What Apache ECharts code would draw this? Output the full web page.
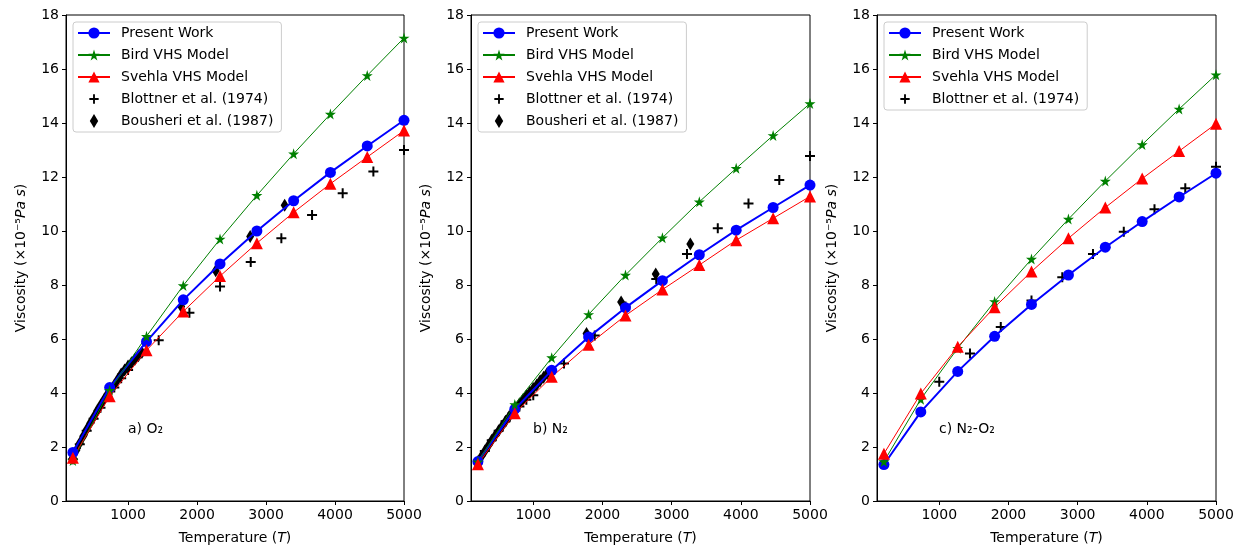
<!DOCTYPE html>
<html>
<head>
<meta charset="utf-8">
<title>Viscosity</title>
<script src="https://cdn.jsdelivr.net/npm/echarts@6/dist/echarts.min.js"></script>
<style>
    html, body {margin: 0; padding: 0; background: #ffffff;}
    #chartBox {width: 1237px; height: 550px;}
</style>
</head>
<body>
<div id="chartBox"></div>
<script>
/**
 * data (viscosity in 1e-5 Pa s)
 */
var _tempModel = [200, 733, 1267, 1800, 2333, 2867, 3400, 3933, 4467, 5000];
var _tempBlottner = [200, 300, 400, 500, 600, 700, 800, 900, 1000, 1444, 1889, 2333, 2778, 3222, 3667, 4111, 4556, 5000];
var _tempBlottnerC = [1000, 1444, 1889, 2333, 2778, 3222, 3667, 4111, 4556, 5000];
var _tempBousheri = [200, 250, 300, 350, 400, 450, 500, 550, 600, 650, 700, 750, 800, 850, 900, 950, 1000, 1050, 1100, 1150, 1200, 1770, 2270, 2770, 3270];

// a) O2
var _presentO2 = [1.8, 4.2, 5.9, 7.45, 8.78, 10.0, 11.12, 12.17, 13.15, 14.1];
var _birdO2 = [1.5, 4.1, 6.1, 7.98, 9.7, 11.32, 12.86, 14.33, 15.76, 17.15];
var _svehlaO2 = [1.6, 3.88, 5.58, 7.02, 8.33, 9.55, 10.69, 11.75, 12.74, 13.72];
var _blottnerO2 = [1.55, 2.1, 2.6, 3.05, 3.45, 3.85, 4.2, 4.55, 4.85, 5.95, 6.97, 7.94, 8.85, 9.73, 10.59, 11.4, 12.2, 13.0];
var _bousheriO2 = [1.6, 1.88, 2.15, 2.4, 2.65, 2.88, 3.1, 3.33, 3.55, 3.75, 3.95, 4.12, 4.3, 4.5, 4.7, 4.85, 5.0, 5.12, 5.25, 5.38, 5.5, 7.2, 8.53, 9.8, 10.95];

// b) N2
var _presentN2 = [1.46, 3.4, 4.84, 6.07, 7.16, 8.16, 9.12, 10.03, 10.87, 11.7];
var _birdN2 = [1.45, 3.57, 5.31, 6.91, 8.37, 9.75, 11.08, 12.32, 13.54, 14.72];
var _svehlaN2 = [1.36, 3.25, 4.6, 5.79, 6.87, 7.83, 8.74, 9.66, 10.47, 11.28];
var _blottnerN2 = [1.4, 1.85, 2.25, 2.6, 2.95, 3.25, 3.5, 3.75, 3.92, 5.09, 6.13, 7.2, 8.22, 9.15, 10.1, 11.02, 11.89, 12.78];
var _bousheriN2 = [1.45, 1.65, 1.85, 2.05, 2.25, 2.43, 2.6, 2.78, 2.95, 3.12, 3.3, 3.45, 3.6, 3.75, 3.9, 4.03, 4.17, 4.3, 4.45, 4.58, 4.72, 6.2, 7.37, 8.41, 9.52];

// c) N2-O2
var _presentMix = [1.35, 3.3, 4.8, 6.1, 7.28, 8.37, 9.4, 10.35, 11.26, 12.14];
var _birdMix = [1.46, 3.77, 5.66, 7.39, 8.96, 10.44, 11.85, 13.2, 14.52, 15.79];
var _svehlaMix = [1.75, 3.98, 5.71, 7.18, 8.5, 9.73, 10.87, 11.94, 12.96, 13.97];
var _blottnerMix = [4.42, 5.46, 6.44, 7.43, 8.29, 9.15, 9.97, 10.81, 11.58, 12.38];

var _xTicks = [1000, 2000, 3000, 4000, 5000];
var _panelTitles = ['a) O₂', 'b) N₂', 'c) N₂-O₂'];
var _names = ['Present Work', 'Bird VHS Model', 'Svehla VHS Model', 'Blottner et al. (1974)', 'Bousheri et al. (1987)'];

var _font = '"DejaVu Sans", sans-serif';
var _gridLeft = [66, 471, 877];
var _gridWidth = [338, 339, 339];
var _starPath = 'path://M50,0 L61,35 L98,35 L68,57 L79,91 L50,70 L21,91 L32,57 L2,35 L39,35 Z';
var _plusPath = 'path://M40,0 H60 V40 H100 V60 H60 V100 H40 V60 H0 V40 H40 Z';
// same plus with an invisible margin so the legend icon stays small
var _plusLegend = 'path://M40,0 H60 V40 H100 V60 H60 V100 H40 V60 H0 V40 H40 Z M-25,-25 L-24.9,-25 L-25,-24.9 Z M125,125 L124.9,125 L125,124.9 Z';
var _thinDiamond = 'path://M30,0 L60,50 L30,100 L0,50 Z';

function pairs(xs, ys){
    var _list = [];
    for(var i = 0; i < ys.length; i++){
        _list.push([xs[i], ys[i]]);
    }
    return _list;
}

function lineSeries(idx, name, xs, ys, color, symbol, size, width){
    return {
        name: name, type: 'line', xAxisIndex: idx, yAxisIndex: idx,
        data: pairs(xs, ys),
        symbol: symbol, symbolSize: size, showAllSymbol: true,
        itemStyle: {color: color},
        lineStyle: {color: color, width: width},
        emphasis: {disabled: true}
    };
}

function scatterSeries(idx, name, xs, ys, symbol, size){
    return {
        name: name, type: 'scatter', xAxisIndex: idx, yAxisIndex: idx,
        data: pairs(xs, ys),
        symbol: symbol, symbolSize: size,
        itemStyle: {color: '#000000', opacity: 1},
        emphasis: {disabled: true}
    };
}

function legendData(withBousheri){
    var _list = [_names[0], _names[1], _names[2], {name: _names[3], icon: _plusLegend}];
    if(withBousheri){
        _list.push(_names[4]);
    }
    return _list;
}

function getParams(){
    var _grid = [], _xAxis = [], _yAxis = [], _legend = [], _graphic = [], _series = [];
    var _panels = [
        [_presentO2, _birdO2, _svehlaO2, _tempBlottner, _blottnerO2, _bousheriO2],
        [_presentN2, _birdN2, _svehlaN2, _tempBlottner, _blottnerN2, _bousheriN2],
        [_presentMix, _birdMix, _svehlaMix, _tempBlottnerC, _blottnerMix, null]
    ];

    for(var i = 0; i < 3; i++){
        var p = _panels[i];
        _grid.push({
            left: _gridLeft[i], width: _gridWidth[i], top: 15, height: 488,
            show: true, borderColor: '#000000', borderWidth: 1, backgroundColor: 'transparent'
        });
        _xAxis.push({
            gridIndex: i, type: 'value', min: 100, max: 5000,
            name: 'Temperature ({it|T})', nameLocation: 'middle', nameGap: 30,
            nameTextStyle: {fontFamily: _font, fontSize: 14, color: '#000',
                rich: {it: {fontFamily: _font, fontSize: 14, fontStyle: 'italic', color: '#000'}}},
            axisLine: {show: true, onZero: false, lineStyle: {color: '#000', width: 1}},
            axisTick: {show: true, length: 4, inside: false, customValues: _xTicks, lineStyle: {color: '#000'}},
            axisLabel: {fontFamily: _font, fontSize: 14, color: '#000', margin: 7, customValues: _xTicks,
                formatter: function(v){ return String(v); }},
            splitLine: {show: false}
        });
        _yAxis.push({
            gridIndex: i, type: 'value', min: 0, max: 18, interval: 2,
            name: 'Viscosity (×10⁻⁵{it|Pa s})', nameLocation: 'middle', nameGap: 38,
            nameTextStyle: {fontFamily: _font, fontSize: 14, color: '#000',
                rich: {it: {fontFamily: _font, fontSize: 14, fontStyle: 'italic', color: '#000'}}},
            axisLine: {show: true, onZero: false, lineStyle: {color: '#000', width: 1}},
            axisTick: {show: true, length: 4, inside: false, lineStyle: {color: '#000'}},
            axisLabel: {fontFamily: _font, fontSize: 14, color: '#000', margin: 7},
            splitLine: {show: false}
        });

        _series.push(lineSeries(i, _names[0], _tempModel, p[0], '#0000ff', 'circle', 11, 2));
        _series.push(lineSeries(i, _names[1], _tempModel, p[1], '#008000', _starPath, 11, 1));
        _series.push(lineSeries(i, _names[2], _tempModel, p[2], '#ff0000', 'triangle', 12, 1));
        _series.push(scatterSeries(i, _names[3], p[3], p[4], _plusPath, 10));
        if(p[5]){
            _series.push(scatterSeries(i, _names[4], _tempBousheri, p[5], _thinDiamond, [8, 13]));
        }

        _legend.push({
            left: _gridLeft[i] + 7, top: 22, orient: 'vertical',
            data: legendData(!!p[5]),
            itemWidth: 32, itemHeight: 14, itemGap: 8,
            symbolKeepAspect: true,
            backgroundColor: '#ffffff', borderColor: '#cccccc', borderWidth: 1, borderRadius: 3,
            padding: [4, 8, 4, 4],
            selectedMode: false,
            textStyle: {fontFamily: _font, fontSize: 14, color: '#000', padding: [0, 0, 0, 6]}
        });

        _graphic.push({
            type: 'text', left: _gridLeft[i] + 62, top: 422,
            style: {text: _panelTitles[i], font: '14px ' + _font, fill: '#000'}
        });
    }

    return {
        backgroundColor: '#ffffff',
        animation: false,
        grid: _grid,
        xAxis: _xAxis,
        yAxis: _yAxis,
        legend: _legend,
        graphic: _graphic,
        series: _series
    };
}

function renderChartBox(){
    var _chart = echarts.init(document.getElementById('chartBox'), null, {renderer: 'canvas'});
    _chart.setOption(getParams());
}

renderChartBox();
</script>
</body>
</html>
